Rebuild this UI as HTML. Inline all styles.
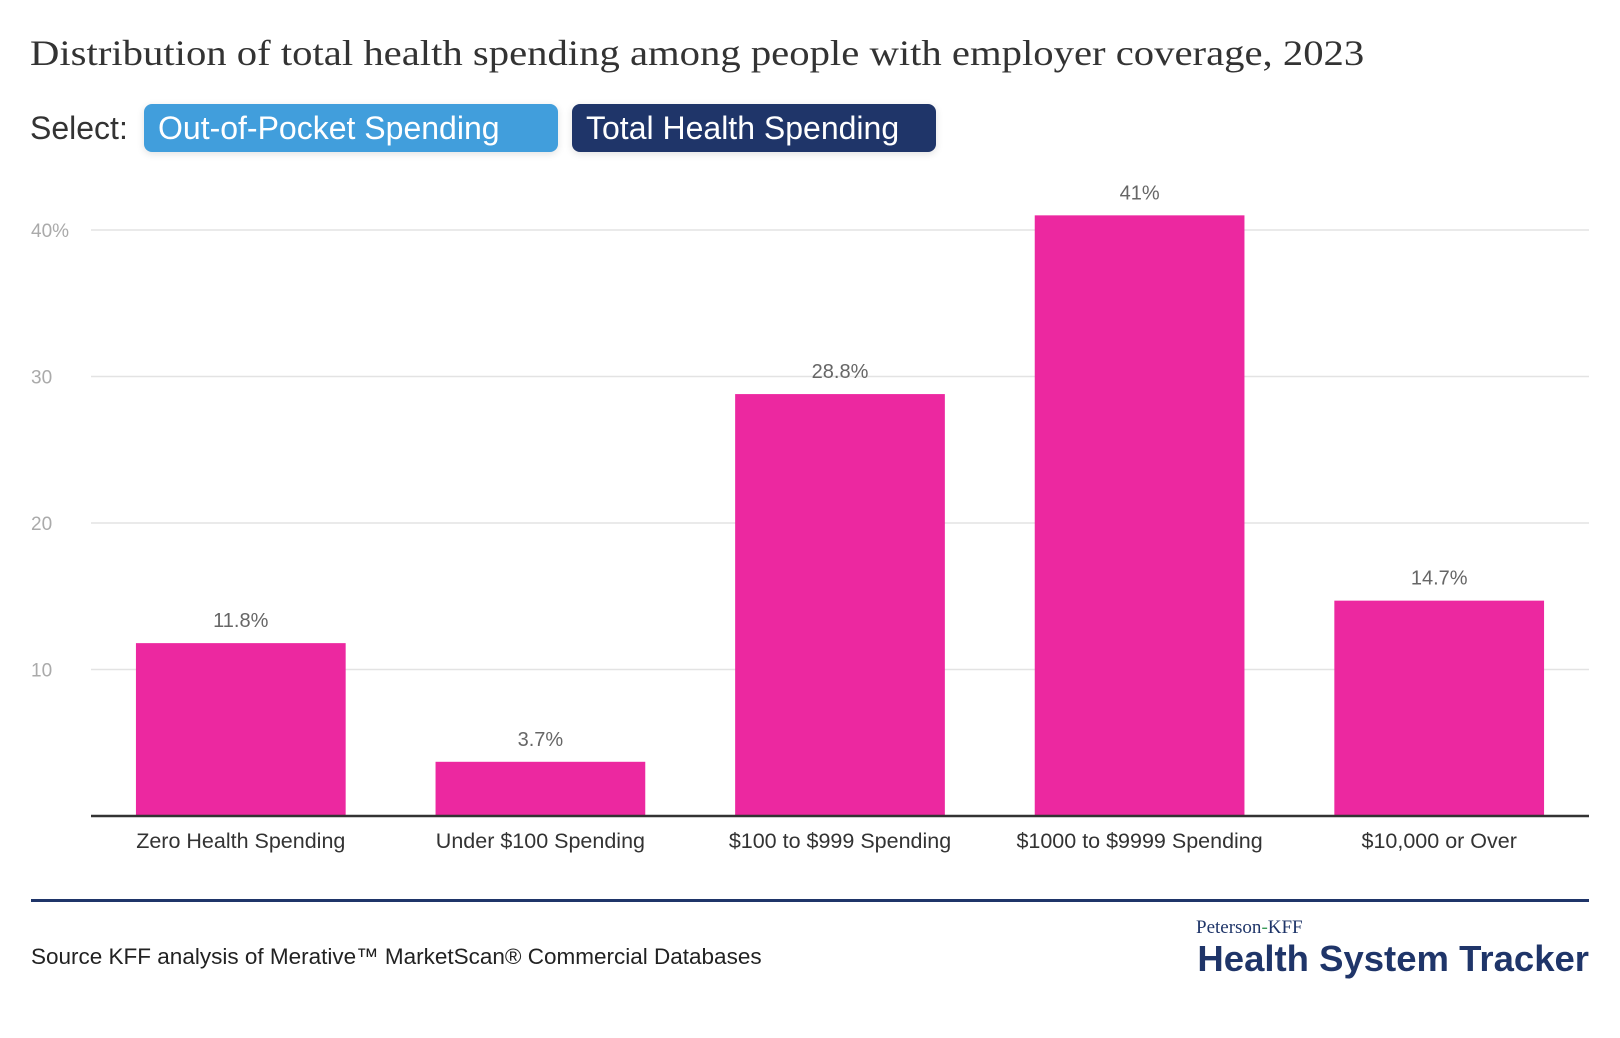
<!DOCTYPE html>
<html><head><meta charset="utf-8"><style>
body{margin:0;width:1620px;height:1038px;background:#fff;font-family:"Liberation Sans",sans-serif;overflow:hidden;position:relative}
.t{position:absolute;white-space:nowrap}
.btn{position:absolute;border-radius:8px;color:#fff;font-size:32px;line-height:48px;padding:0 14px;box-shadow:0 2px 8px rgba(0,0,0,0.12)}
</style></head><body>
<div class="t" style="left:30px;top:32px;font-family:'Liberation Serif',serif;font-size:36px;color:#333;transform:scaleX(1.13);transform-origin:0 0">Distribution of total health spending among people with employer coverage, 2023</div>
<div class="t" style="left:30px;top:110px;font-size:32px;color:#333">Select:</div>
<div class="btn" style="left:144px;top:104px;width:386px;background:#419edc">Out-of-Pocket Spending</div>
<div class="btn" style="left:572px;top:104px;width:336px;background:#1f3569">Total Health Spending</div>
<svg id="chart" width="1620" height="1038" style="position:absolute;left:0;top:0"></svg>
<div class="t" style="left:31px;top:899px;width:1558px;height:3px;background:#1f3569"></div>
<div class="t" style="left:31px;top:944px;font-size:22.5px;color:#222">Source KFF analysis of Merative™ MarketScan® Commercial Databases</div>
<div class="t" style="left:1196px;top:917px;font-family:'Liberation Serif',serif;font-size:19px;color:#1f3569">Peterson<span style="color:#3a9a5a">-</span>KFF</div>
<div class="t" style="left:1150px;top:938px;width:439px;font-size:36.5px;font-weight:bold;color:#1f3569;text-align:right">Health System Tracker</div>
<script>
const categories=["Zero Health Spending","Under $100 Spending","$100 to $999 Spending","$1000 to $9999 Spending","$10,000 or Over"];
const values=[11.8,3.7,28.8,41,14.7];
const valueLabels=["11.8%","3.7%","28.8%","41%","14.7%"];
const ticks=[10,20,30,40];
const tickLabels=["10","20","30","40%"];
const svg=document.getElementById('chart');const NS='http://www.w3.org/2000/svg';
const x0=91,x1=1589,y0=816,pxPer=14.65;
const y=v=>y0-v*pxPer;
const band=(x1-x0)/categories.length,bw=band*0.7;
function mk(t,a,txt){const e=document.createElementNS(NS,t);for(const k in a)e.setAttribute(k,a[k]);if(txt!==undefined)e.textContent=txt;svg.appendChild(e);return e;}
ticks.forEach((t,i)=>{
const g=mk('line',{x1:x0,x2:x1,y1:y(t),y2:y(t),stroke:'#e3e3e3','stroke-width':1.5});


const l=mk('text',{x:31,y:y(t)+7,'font-size':19,fill:'#aaa','font-family':'Liberation Sans'},tickLabels[i]);


});
categories.forEach((c,i)=>{
const cx=x0+band*(i+0.5);
const r=mk('rect',{x:cx-bw/2,y:y(values[i]),width:bw,height:values[i]*pxPer,fill:'#ec28a0'});


const v=mk('text',{x:cx,y:y(values[i])-16,'text-anchor':'middle','font-size':20,fill:'#666','font-family':'Liberation Sans'},valueLabels[i]);


const cl=mk('text',{x:cx,y:848,'text-anchor':'middle','font-size':21.5,fill:'#333','font-family':'Liberation Sans'},c);


});
const ax=mk('line',{x1:x0,x2:x1,y1:y0,y2:y0,stroke:'#333','stroke-width':2.5});


</script>
</body></html>
